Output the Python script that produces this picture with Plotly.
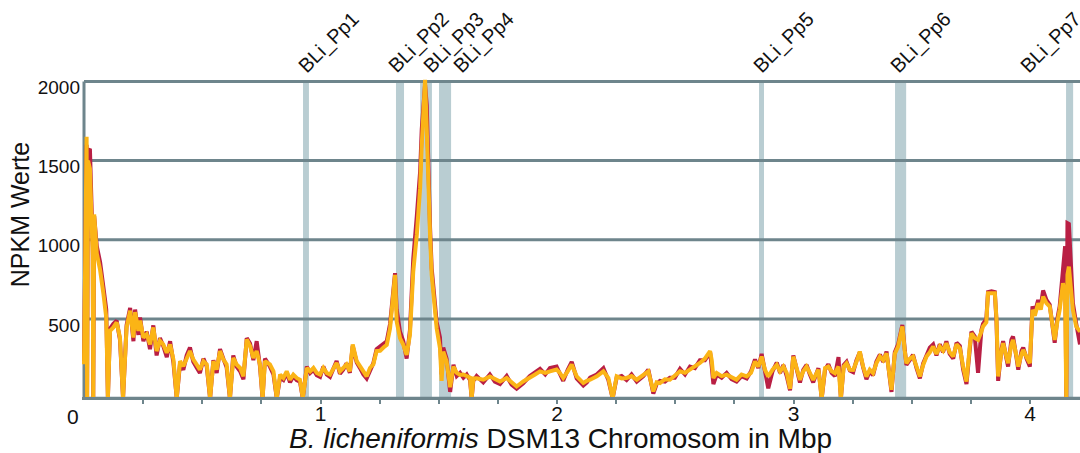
import plotly.graph_objects as go

# ---------------- data ----------------
pos_mbp = [
    0.000, 0.006, 0.011, 0.013, 0.017, 0.025, 0.032, 0.037, 0.039, 0.043,
    0.054, 0.068, 0.082, 0.094, 0.101, 0.110, 0.124, 0.138, 0.152, 0.165,
    0.180, 0.195, 0.209, 0.216, 0.230, 0.237, 0.251, 0.265, 0.279, 0.293,
    0.307, 0.321, 0.335, 0.350, 0.364, 0.378, 0.392, 0.406, 0.420, 0.434,
    0.448, 0.462, 0.476, 0.490, 0.505, 0.519, 0.533, 0.547, 0.561, 0.575,
    0.589, 0.603, 0.617, 0.631, 0.645, 0.660, 0.674, 0.688, 0.702, 0.716,
    0.730, 0.744, 0.755, 0.765, 0.786, 0.801, 0.815, 0.829, 0.843, 0.857,
    0.871, 0.885, 0.899, 0.913, 0.925, 0.942, 0.956, 0.970, 0.984, 0.998,
    1.012, 1.026, 1.040, 1.054, 1.068, 1.082, 1.096, 1.110, 1.124, 1.136,
    1.153, 1.167, 1.181, 1.195, 1.209, 1.223, 1.237, 1.252,
    1.266, 1.280, 1.294, 1.308, 1.315, 1.322, 1.336, 1.350, 1.364, 1.378,
    1.386, 1.392, 1.407, 1.421, 1.428, 1.435, 1.442, 1.449, 1.456, 1.463,
    1.470, 1.477, 1.491, 1.505, 1.512, 1.519, 1.533, 1.548, 1.562, 1.576,
    1.590, 1.604, 1.618, 1.632, 1.639, 1.646, 1.660,
    1.688, 1.716, 1.737, 1.759, 1.787, 1.808, 1.829, 1.857, 1.885, 1.907,
    1.928, 1.950, 1.970, 1.998, 2.012, 2.026, 2.045, 2.062, 2.083, 2.097,
    2.111, 2.126, 2.140, 2.168, 2.196, 2.217, 2.235, 2.252, 2.273, 2.294,
    2.315, 2.337, 2.365, 2.386, 2.407, 2.421, 2.435, 2.456, 2.477, 2.498,
    2.520, 2.541, 2.562, 2.583, 2.604, 2.625, 2.647, 2.654, 2.661, 2.675,
    2.696, 2.717, 2.738, 2.759, 2.780, 2.802,
    2.820, 2.837, 2.851, 2.865, 2.879, 2.893, 2.911, 2.929, 2.943, 2.957,
    2.971, 2.985, 2.999, 3.013, 3.027, 3.041, 3.055, 3.069, 3.083, 3.105,
    3.119, 3.133, 3.147, 3.161, 3.175, 3.190, 3.200, 3.212, 3.224, 3.238,
    3.252, 3.266, 3.280, 3.294, 3.308, 3.322, 3.336, 3.350, 3.365, 3.379,
    3.393, 3.414, 3.428, 3.442, 3.460, 3.470, 3.477, 3.491, 3.505, 3.520,
    3.534, 3.548, 3.562, 3.576, 3.590, 3.604, 3.618, 3.632, 3.646, 3.660,
    3.675, 3.689, 3.703, 3.717, 3.731, 3.745, 3.752, 3.766, 3.780, 3.794,
    3.801, 3.815, 3.822, 3.837, 3.851, 3.858, 3.865, 3.879, 3.886, 3.900,
    3.907, 3.921, 3.928, 3.942, 3.950, 3.964, 3.971, 3.985, 3.999, 4.010,
    4.020, 4.034, 4.045, 4.055, 4.069, 4.083, 4.094, 4.104, 4.115, 4.125,
    4.139, 4.148, 4.153, 4.158, 4.164, 4.172, 4.181, 4.195, 4.211,
]

npkm_orange = [
    215, 1350, 1650, 0, 1500, 1450, 1170, 900, 0, 1160,
    915, 810, 660, 510, 0, 425, 447, 479, 383, 0,
    447, 553, 383, 543, 425, 490, 383, 404, 340, 447,
    298, 362, 340, 287, 340, 245, 0, 234, 202, 255,
    298, 245, 213, 181, 234, 213, 0, 234, 181, 298,
    245, 213, 0, 255, 213, 191, 138, 372, 330, 255,
    298, 213, 0, 234, 213, 170, 0, 149, 128, 170,
    117, 149, 128, 117, 0, 191, 170, 191, 160, 149,
    191, 160, 149, 191, 223, 170, 191, 213, 170, 340,
    234, 202, 170, 138, 191, 213, 298, 300,
    320, 337, 442, 653, 779, 484, 379, 337, 274, 400,
    610, 800, 1031, 1326, 1600, 1873, 2010, 1705, 1284, 1031,
    779, 674, 442, 316, 110, 295, 232, 70, 200, 160,
    147, 150, 137, 130, 0, 125, 126,
    117, 138, 120, 106, 128, 100, 74, 106, 128, 150,
    170, 160, 170, 181, 160, 128, 170, 213, 138, 120,
    96, 110, 117, 138, 170, 128, 0, 138, 125, 128,
    140, 117, 150, 170, 43, 100, 96, 120, 117, 140,
    170, 160, 181, 200, 223, 250, 298, 240, 128, 160,
    140, 149, 130, 117, 150, 138,
    160, 232, 200, 263, 180, 137, 180, 211, 170, 200,
    160, 60, 263, 180, 116, 170, 200, 160, 116, 180,
    0, 190, 200, 170, 158, 200, 0, 200, 221, 180,
    179, 230, 295, 200, 137, 180, 158, 220, 263, 240,
    284, 53, 280, 326, 453, 300, 221, 250, 263, 200,
    137, 210, 263, 290, 326, 280, 326, 300, 347, 290,
    263, 340, 316, 200, 105, 330, 410, 380, 368, 420,
    453, 480, 663, 663, 663, 500, 137, 300, 347, 260,
    221, 340, 368, 270, 200, 280, 305, 260, 221, 558,
    520, 600, 560, 642, 600, 579, 480, 368, 480, 558,
    726, 650, 0, 780, 831, 700, 558, 453, 420,
]

npkm_red = [
    235, 1250, 1600, 0, 1560, 1575, 1200, 950, 0, 1150,
    960, 860, 700, 560, 0, 440, 470, 490, 370, 0,
    460, 570, 360, 560, 400, 510, 360, 420, 310, 460,
    270, 380, 330, 260, 360, 225, 0, 220, 180, 270,
    320, 230, 195, 160, 250, 200, 0, 240, 160, 310,
    250, 195, 0, 270, 200, 170, 120, 380, 345, 240,
    360, 200, 0, 250, 200, 150, 0, 130, 115, 160,
    100, 140, 115, 105, 0, 200, 160, 180, 145, 135,
    200, 150, 135, 185, 235, 155, 180, 220, 160, 330,
    225, 190, 150, 125, 180, 220, 310, 330,
    345, 360, 470, 690, 790, 560, 420, 360, 250, 430,
    680, 880, 1150, 1431, 1700, 1900, 1980, 1852, 1347, 1080,
    820, 700, 480, 383, 150, 320, 250, 40, 211, 140,
    160, 130, 150, 115, 0, 110, 140,
    100, 150, 105, 90, 140, 85, 60, 95, 140, 160,
    185, 150, 190, 200, 150, 110, 180, 230, 125, 100,
    80, 100, 130, 150, 190, 115, 0, 130, 140, 115,
    150, 105, 140, 180, 30, 90, 110, 105, 130, 130,
    185, 150, 200, 190, 240, 240, 290, 200, 90, 150,
    130, 160, 120, 105, 140, 125,
    170, 245, 190, 280, 170, 63, 170, 225, 160, 210,
    140, 50, 270, 170, 100, 180, 210, 150, 100, 190,
    0, 180, 215, 160, 140, 260, 0, 210, 230, 175,
    165, 240, 290, 195, 120, 170, 145, 230, 275, 230,
    295, 40, 290, 340, 463, 310, 210, 240, 275, 190,
    125, 220, 275, 320, 340, 270, 340, 290, 360, 280,
    250, 350, 330, 180, 90, 345, 420, 390, 160, 430,
    470, 500, 670, 675, 670, 480, 110, 310, 360, 250,
    200, 370, 390, 260, 180, 300, 320, 250, 200, 580,
    540, 620, 580, 680, 620, 590, 460, 350, 500, 580,
    810, 960, 0, 1105, 1100, 900, 600, 470, 340,
]

phage_names = ["BLi_Pp1", "BLi_Pp2", "BLi_Pp3", "BLi_Pp4", "BLi_Pp5", "BLi_Pp6", "BLi_Pp7"]
phage_start = [0.926, 1.319, 1.421, 1.501, 2.854, 3.429, 4.152]
phage_end = [0.951, 1.353, 1.471, 1.552, 2.875, 3.476, 4.182]

x_tick_values = [1, 2, 3, 4]
x_minor_values = [0.25, 0.5, 0.75, 1.25, 1.5, 1.75, 2.25, 2.5, 2.75,
                  3.25, 3.5, 3.75, 4.0]
grid_values = [0, 500, 1000, 1500, 2000]
y_tick_values = [500, 1000, 1500, 2000]
x_range = [-0.0085, 4.211]
y_range = [-30, 2015]

# ---------------- styling ----------------
FONT = "Liberation Sans, Arial, sans-serif"
GRID = "#6e858c"
BAND = "#b9cdd2"
ORANGE = "#fbb416"
RED = "#b91f44"

fig = go.Figure()
fig.add_trace(go.Scatter(x=pos_mbp, y=npkm_red, mode="lines",
                         line=dict(color=RED, width=4), hoverinfo="skip",
                         showlegend=False))
fig.add_trace(go.Scatter(x=pos_mbp, y=npkm_orange, mode="lines",
                         line=dict(color=ORANGE, width=4), hoverinfo="skip",
                         showlegend=False))

# phage regions (under the grid lines)
for s, e in zip(phage_start, phage_end):
    fig.add_shape(type="rect", xref="x", yref="y", x0=s, x1=e,
                  y0=grid_values[0], y1=grid_values[-1],
                  fillcolor=BAND, line=dict(width=0), layer="below")

# horizontal grid lines incl. the zero line, above bands, below traces
for yv in grid_values:
    fig.add_shape(type="line", xref="x", yref="y", x0=0, x1=x_range[1],
                  y0=yv, y1=yv, line=dict(color=GRID, width=3), layer="between")
# left axis line
fig.add_shape(type="line", xref="x", yref="y", x0=0, x1=0,
              y0=grid_values[0], y1=grid_values[-1],
              line=dict(color=GRID, width=3), layer="between")

# phage labels (manual pixel nudges like in the original)
label_nudge = [-12, -15, -4, 7, -13, -12, -53]
for name, s, dx in zip(phage_names, phage_start, label_nudge):
    fig.add_annotation(x=s, y=grid_values[-1], xref="x", yref="y", text=name,
                       showarrow=False, textangle=-45, xanchor="left",
                       yanchor="bottom", xshift=dx, yshift=1,
                       font=dict(family=FONT, size=20, color="#111"))

# axis titles and the lone zero label
fig.add_annotation(x=0.479, y=-0.11, xref="paper", yref="paper",
                   text="<i>B. licheniformis</i> DSM13 Chromosom in Mbp",
                   showarrow=False, xanchor="center", yanchor="middle",
                   font=dict(family=FONT, size=28, color="#111"))
fig.add_annotation(x=-0.062, y=0.58, xref="paper", yref="paper",
                   text="NPKM Werte", textangle=-90, showarrow=False,
                   xanchor="center", yanchor="middle",
                   font=dict(family=FONT, size=25, color="#111"))
fig.add_annotation(x=0, y=0, xref="x", yref="y", text="0",
                   showarrow=False, xanchor="right", yanchor="top",
                   xshift=-3, yshift=-5,
                   font=dict(family=FONT, size=21, color="#111"))

# x axis drawn at the data zero (free position), line + ticks below it
fig.update_xaxes(range=x_range, tickvals=x_tick_values,
                 anchor="free", position=30 / 2045,
                 ticks="outside", ticklen=4, tickwidth=2, tickcolor=GRID,
                 minor=dict(tickvals=x_minor_values,
                            ticks="outside", ticklen=4,
                            tickwidth=2, tickcolor=GRID),
                 showgrid=False, zeroline=False,
                 showline=True, linecolor=GRID, linewidth=3,
                 ticklabelstandoff=-8,
                 tickfont=dict(family=FONT, size=21, color="#111"))
fig.update_yaxes(range=y_range, tickvals=y_tick_values,
                 ticks="", showgrid=False, zeroline=False, showline=False,
                 ticklabelshift=6, ticklabelstandoff=1,
                 tickfont=dict(family=FONT, size=19, color="#111"))

fig.update_layout(width=1080, height=453,
                  margin=dict(l=82, r=0, t=79, b=50),
                  plot_bgcolor="white", paper_bgcolor="white",
                  showlegend=False)

fig.write_html("out.html")
